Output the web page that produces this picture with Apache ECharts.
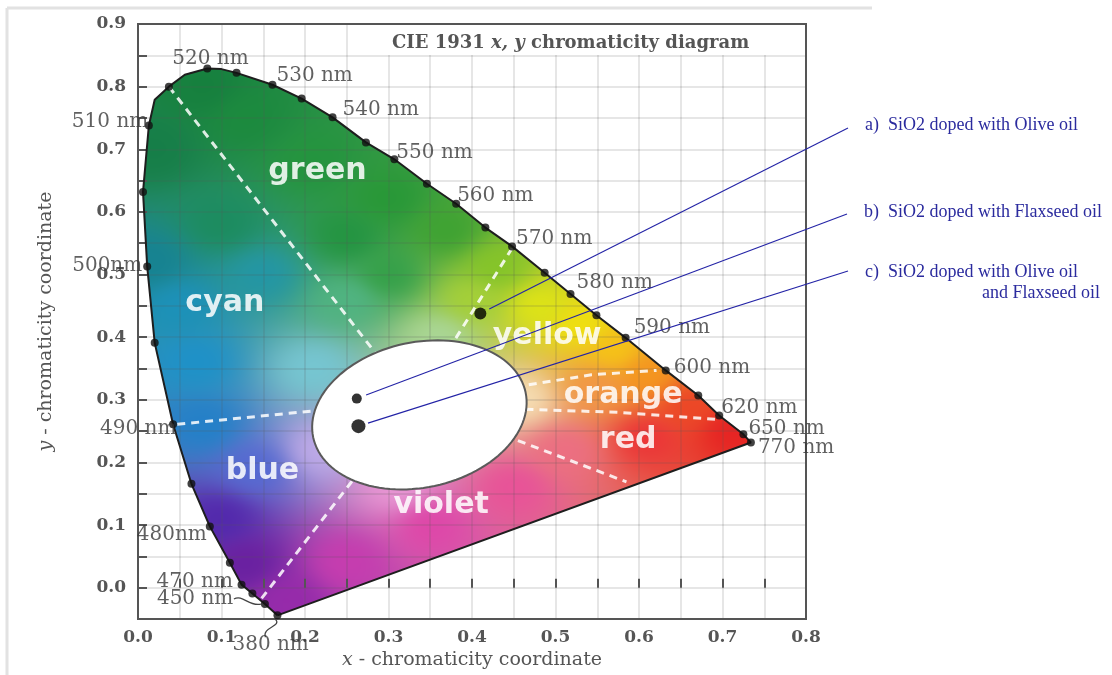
<!DOCTYPE html>
<html>
<head>
<meta charset="utf-8">
<script src="https://cdn.jsdelivr.net/npm/echarts@6/dist/echarts.min.js"></script>
<style>
  html, body { margin: 0; padding: 0; background: #fff; }
  #chart { width: 1112px; height: 675px; }
</style>
</head>
<body>
<div id="chart"></div>
<script>
// Spectral locus outline, 380 nm round to 770 nm (chromaticity x, y)
const locusX = [0.167, 0.152, 0.137, 0.124, 0.110, 0.086, 0.064, 0.042, 0.020, 0.011, 0.006, 0.013, 0.020, 0.037, 0.056, 0.083, 0.100, 0.118, 0.161, 0.196, 0.233, 0.273, 0.307, 0.346, 0.381, 0.416, 0.448, 0.487, 0.518, 0.549, 0.584, 0.632, 0.671, 0.696, 0.725, 0.734];
const locusY = [-0.044, -0.026, -0.009, 0.005, 0.040, 0.098, 0.166, 0.261, 0.391, 0.513, 0.632, 0.738, 0.779, 0.800, 0.819, 0.829, 0.828, 0.822, 0.803, 0.781, 0.751, 0.711, 0.684, 0.645, 0.613, 0.575, 0.545, 0.503, 0.469, 0.435, 0.399, 0.347, 0.307, 0.275, 0.245, 0.232];
// text = labelled wavelength dot, '' = plain dot, null = outline point only
const locusTag = ['380 nm', '450 nm', '', '470 nm', '', '480nm', '', '490 nm', '', '500nm', '', '510 nm', null, '', null, '520 nm', null, '', '530 nm', '', '540 nm', '', '550 nm', '', '560 nm', '', '570 nm', '', '580 nm', '', '590 nm', '600 nm', '', '620 nm', '650 nm', '770 nm'];

// Measured samples
const sampleNames = ['a)  SiO2 doped with Olive oil', 'b)  SiO2 doped with Flaxseed oil', 'c)  SiO2 doped with Olive oil'];
const sampleX = [0.410, 0.262, 0.264];
const sampleY = [0.438, 0.302, 0.258];

// Colour-name regions
const regionNames = ['green', 'cyan', 'blue', 'violet', 'yellow', 'orange', 'red'];
const regionX = [0.215, 0.104, 0.149, 0.363, 0.490, 0.581, 0.587];
const regionY = [0.665, 0.454, 0.186, 0.132, 0.402, 0.307, 0.235];

// Dashed region boundaries
const dividerX = [[0.037, 0.290], [0.448, 0.379], [0.047, 0.215], [0.148, 0.262], [0.455, 0.585], [0.468, 0.543, 0.621], [0.464, 0.576, 0.691]];
const dividerY = [[0.800, 0.365], [0.542, 0.395], [0.261, 0.283], [-0.017, 0.180], [0.235, 0.169], [0.324, 0.340, 0.347], [0.285, 0.280, 0.269]];

// White-light ellipse: centre, semi-axes (data units)
const ellipseCenter = [0.337, 0.276];
const ellipseRadii = [0.130, 0.116];

// Axis ticks
const xTicks = { min: 0, max: 0.8, step: 0.05 };
const yTicks = { min: -0.05, max: 0.9, step: 0.05 };

// ---- styling / layout ----
const SERIF = '"DejaVu Serif", serif';
const TEXT_SERIF = '"Liberation Serif", "Times New Roman", serif';
const wlLabelOffset = {
  '380 nm': [-45, 29], '450 nm': [-108, -5], '470 nm': [-85, -3], '480nm': [-73, 8],
  '490 nm': [-73, 5], '500nm': [-75, -1], '510 nm': [-77, -4], '520 nm': [-35, -10],
  '530 nm': [4, -9], '540 nm': [10, -8], '550 nm': [2, -7], '560 nm': [1, -8],
  '570 nm': [4, -8], '580 nm': [6, -11], '590 nm': [8, -10], '600 nm': [8, -3],
  '620 nm': [2, -8], '650 nm': [5, -6], '770 nm': [7, 5]
};
const sampleDotSize = [12, 10, 14];
const calloutEnd = [[848, 128], [847, 214], [848, 271]];
const ellipseTiltDeg = -12;

// colour field painted inside the locus: [x, y, r, g, b]
const fieldAnchors = [
  [0.08, 0.80, 22, 128, 62], [0.02, 0.70, 22, 126, 72], [0.13, 0.75, 28, 138, 62],
  [0.21, 0.68, 36, 148, 62], [0.30, 0.62, 40, 152, 55], [0.37, 0.57, 62, 162, 50],
  [0.25, 0.56, 35, 148, 65], [0.30, 0.50, 52, 160, 72],
  [0.43, 0.51, 132, 196, 40], [0.40, 0.46, 165, 208, 55], [0.48, 0.45, 222, 228, 22],
  [0.53, 0.42, 240, 225, 15], [0.57, 0.38, 246, 195, 22], [0.61, 0.34, 245, 150, 30],
  [0.55, 0.32, 242, 150, 70], [0.66, 0.29, 236, 70, 38], [0.71, 0.25, 230, 35, 35],
  [0.61, 0.24, 235, 52, 55], [0.51, 0.22, 236, 110, 130], [0.45, 0.16, 232, 82, 152],
  [0.35, 0.10, 222, 70, 168], [0.25, 0.04, 198, 60, 175], [0.18, -0.02, 150, 42, 170],
  [0.13, 0.04, 105, 32, 160], [0.10, 0.11, 82, 40, 172], [0.14, 0.19, 85, 105, 210],
  [0.08, 0.26, 35, 128, 200], [0.07, 0.36, 30, 145, 200], [0.05, 0.45, 28, 145, 185],
  [0.015, 0.52, 22, 130, 145], [0.15, 0.50, 35, 150, 165], [0.10, 0.58, 28, 140, 95],
  [0.21, 0.35, 118, 198, 210], [0.25, 0.46, 80, 180, 130],
  [0.22, 0.22, 190, 170, 232], [0.31, 0.16, 232, 150, 212], [0.34, 0.29, 245, 245, 245],
  [0.36, 0.40, 170, 215, 150], [0.46, 0.30, 246, 222, 180]
];

const chart = echarts.init(document.getElementById('chart'), null, { renderer: 'canvas' });

// Paint the horseshoe fill into an offscreen canvas, masked by the locus outline
let fillCache = null;
function renderFill(params, api) {
  const pts = locusX.map((x, i) => api.coord([x, locusY[i]]));
  const xs = pts.map(p => p[0]), ys = pts.map(p => p[1]);
  const x0 = Math.floor(Math.min(...xs)) - 1, y0 = Math.floor(Math.min(...ys)) - 1;
  const x1 = Math.ceil(Math.max(...xs)) + 1, y1 = Math.ceil(Math.max(...ys)) + 1;
  const w = x1 - x0, h = y1 - y0;
  const key = [x0, y0, w, h].join(',');
  if (!fillCache || fillCache.key !== key) {
    const o = api.coord([0, 0]), u = api.coord([1, 1]);
    const sx = u[0] - o[0], sy = u[1] - o[1];
    const cv = document.createElement('canvas');
    cv.width = w; cv.height = h;
    const ctx = cv.getContext('2d');
    const img = ctx.createImageData(w, h);
    const d = img.data;
    for (let j = 0; j < h; j++) {
      const vy = (y0 + j + 0.5 - o[1]) / sy;
      for (let i = 0; i < w; i++) {
        const vx = (x0 + i + 0.5 - o[0]) / sx;
        let r = 0, g = 0, b = 0, ws = 0;
        for (let k = 0; k < fieldAnchors.length; k++) {
          const a = fieldAnchors[k];
          const ddx = vx - a[0], ddy = vy - a[1];
          const wt = 1 / Math.pow(ddx * ddx + ddy * ddy + 4e-4, 1.5);
          r += wt * a[2]; g += wt * a[3]; b += wt * a[4]; ws += wt;
        }
        const p = (j * w + i) * 4;
        d[p] = r / ws; d[p + 1] = g / ws; d[p + 2] = b / ws; d[p + 3] = 255;
      }
    }
    ctx.putImageData(img, 0, 0);
    ctx.globalCompositeOperation = 'destination-in';
    ctx.beginPath();
    pts.forEach((p, k) => k ? ctx.lineTo(p[0] - x0, p[1] - y0) : ctx.moveTo(p[0] - x0, p[1] - y0));
    ctx.closePath();
    ctx.fill();
    fillCache = { key, cv };
  }
  return { type: 'image', style: { image: fillCache.cv, x: x0, y: y0, width: w, height: h } };
}

function renderEllipse(params, api) {
  const c = api.coord([api.value(0), api.value(1)]);
  const s = api.size(ellipseRadii);
  const th = ellipseTiltDeg * Math.PI / 180;
  const pts = [];
  for (let k = 0; k < 120; k++) {
    const t = k / 120 * Math.PI * 2;
    const ex = s[0] * Math.cos(t), ey = s[1] * Math.sin(t);
    pts.push([c[0] + ex * Math.cos(th) - ey * Math.sin(th), c[1] + ex * Math.sin(th) + ey * Math.cos(th)]);
  }
  return { type: 'polygon', shape: { points: pts }, style: { fill: '#ffffff', stroke: '#5a5a5a', lineWidth: 2 } };
}

function renderCallout(params, api) {
  const p = api.coord([api.value(0), api.value(1)]);
  const e = calloutEnd[params.dataIndex];
  const dx = e[0] - p[0], dy = e[1] - p[1], len = Math.hypot(dx, dy);
  const gap = 10;
  return {
    type: 'line',
    shape: { x1: p[0] + dx / len * gap, y1: p[1] + dy / len * gap, x2: e[0], y2: e[1] },
    style: { stroke: '#2323a6', lineWidth: 1.1 }
  };
}

function renderRegionLabel(params, api) {
  const p = api.coord([api.value(0), api.value(1)]);
  return {
    type: 'text', x: p[0], y: p[1],
    style: {
      text: regionNames[params.dataIndex], align: 'center', verticalAlign: 'middle',
      font: 'bold 30px "DejaVu Sans", sans-serif', fill: 'rgba(255,255,255,0.86)'
    }
  };
}

// little curved leaders tying two labels to their dots
const leaderShape = {
  '450 nm': [[-31, -5], [-22, -10], [-16, 3], [-4, 0]],
  '380 nm': [[-2, 4], [5, 11], [-16, 12], [-12, 22]]
};
function renderLeader(params, api) {
  const p = api.coord([api.value(0), api.value(1)]);
  const s = leaderShape[locusTag[api.value(2)]];
  return {
    type: 'bezierCurve',
    shape: {
      x1: p[0] + s[0][0], y1: p[1] + s[0][1], cpx1: p[0] + s[1][0], cpy1: p[1] + s[1][1],
      cpx2: p[0] + s[2][0], cpy2: p[1] + s[2][1], x2: p[0] + s[3][0], y2: p[1] + s[3][1]
    },
    style: { stroke: '#444', lineWidth: 1.2, fill: null }
  };
}

const outlineData = locusX.map((x, i) => [x, locusY[i]]);
outlineData.push([locusX[0], locusY[0]]);

const dotData = [];
const leaderData = [];
locusTag.forEach((t, i) => {
  if (t === null) return;
  const item = { value: [locusX[i], locusY[i]] };
  if (t) {
    item.label = { show: true, formatter: t, offset: wlLabelOffset[t] };
  }
  dotData.push(item);
  if (leaderShape[t]) leaderData.push([locusX[i], locusY[i], i]);
});

const dividerSeries = dividerX.map((xs, k) => ({
  type: 'line', z: 3, silent: true, symbol: 'none', animation: false,
  data: xs.map((x, i) => [x, dividerY[k][i]]),
  lineStyle: { color: 'rgba(255,255,255,0.85)', width: 3, type: [8, 6] }
}));

const tickLabel = v => (Math.round(v * 20) % 2 === 0 && v > -0.001) ? v.toFixed(1) : '';

const option = {
  animation: false,
  backgroundColor: '#ffffff',
  grid: { left: 138, right: 306, top: 24, bottom: 52, show: true, borderColor: '#555', borderWidth: 2, backgroundColor: 'transparent' },
  xAxis: {
    type: 'value', min: xTicks.min, max: xTicks.max, interval: xTicks.step, z: 2,
    axisLine: { show: false },
    axisTick: { show: true, inside: true, length: 9, lineStyle: { color: '#555', width: 2 } },
    splitLine: { show: true, lineStyle: { color: 'rgba(90,90,90,0.2)', width: 1.5 } },
    axisLabel: { formatter: tickLabel, margin: 10, fontFamily: SERIF, fontWeight: 'bold', fontSize: 17, color: '#555' },
    name: '{i|x} - chromaticity coordinate', nameLocation: 'middle', nameGap: 30,
    nameTextStyle: {
      fontFamily: SERIF, fontSize: 19, color: '#555',
      rich: { i: { fontFamily: SERIF, fontSize: 19, fontStyle: 'italic', color: '#555' } }
    }
  },
  yAxis: {
    type: 'value', min: yTicks.min, max: yTicks.max, interval: yTicks.step, z: 2,
    axisLine: { show: false },
    axisTick: { show: true, inside: true, length: 9, lineStyle: { color: '#555', width: 2 } },
    splitLine: { show: true, lineStyle: { color: 'rgba(90,90,90,0.2)', width: 1.5 } },
    axisLabel: { formatter: tickLabel, margin: 12, fontFamily: SERIF, fontWeight: 'bold', fontSize: 17, color: '#555' },
    name: '{i|y} - chromaticity coordinate', nameLocation: 'middle', nameGap: 82,
    nameTextStyle: {
      fontFamily: SERIF, fontSize: 19, color: '#555',
      rich: { i: { fontFamily: SERIF, fontSize: 19, fontStyle: 'italic', color: '#555' } }
    }
  },
  graphic: [
    { type: 'line', z: 1, shape: { x1: 7, y1: 8, x2: 872, y2: 8 }, style: { stroke: '#e2e2e2', lineWidth: 3 } },
    { type: 'line', z: 1, shape: { x1: 7, y1: 8, x2: 7, y2: 675 }, style: { stroke: '#e2e2e2', lineWidth: 3 } },
    { type: 'rect', z: 20, shape: { x: 385, y: 25, width: 420, height: 30 }, style: { fill: '#ffffff' } },
    {
      type: 'text', z: 21, x: 392, y: 43,
      style: {
        text: '{b|CIE 1931 }{i|x, y}{b| chromaticity diagram}', verticalAlign: 'middle',
        rich: {
          b: { fontFamily: SERIF, fontWeight: 'bold', fontSize: 18, fill: '#555' },
          i: { fontFamily: SERIF, fontWeight: 'bold', fontStyle: 'italic', fontSize: 18, fill: '#555' }
        }
      }
    },
    { type: 'text', z: 21, x: 865, y: 125, style: { text: sampleNames[0], font: '18px ' + TEXT_SERIF, fill: '#2b2b9e', verticalAlign: 'middle' } },
    { type: 'text', z: 21, x: 864, y: 212, style: { text: sampleNames[1], font: '18px ' + TEXT_SERIF, fill: '#2b2b9e', verticalAlign: 'middle' } },
    { type: 'text', z: 21, x: 865, y: 272, style: { text: sampleNames[2], font: '18px ' + TEXT_SERIF, fill: '#2b2b9e', verticalAlign: 'middle' } },
    { type: 'text', z: 21, x: 982, y: 293, style: { text: 'and Flaxseed oil', font: '18px ' + TEXT_SERIF, fill: '#2b2b9e', verticalAlign: 'middle' } }
  ],
  series: [
    { type: 'custom', z: 1, silent: true, renderItem: renderFill, data: [[0, 0]] },
    ...dividerSeries,
    { type: 'custom', z: 3, silent: true, renderItem: renderRegionLabel, data: regionX.map((x, i) => [x, regionY[i]]) },
    {
      type: 'line', z: 4, silent: true, symbol: 'none', data: outlineData,
      lineStyle: { color: '#1e1e1e', width: 2 }
    },
    { type: 'custom', z: 5, silent: true, renderItem: renderEllipse, data: [ellipseCenter] },
    { type: 'custom', z: 5, silent: true, renderItem: renderLeader, data: leaderData },
    {
      type: 'scatter', z: 6, silent: true, symbol: 'circle', symbolSize: 8, data: dotData,
      itemStyle: { color: '#111' },
      label: {
        show: false, position: 'inside', align: 'left', verticalAlign: 'middle',
        fontFamily: SERIF, fontSize: 20, color: '#383838'
      }
    },
    { type: 'custom', z: 7, silent: true, renderItem: renderCallout, data: sampleX.map((x, i) => [x, sampleY[i]]) },
    {
      type: 'scatter', z: 8, silent: true, symbol: 'circle',
      data: sampleX.map((x, i) => ({ value: [x, sampleY[i]], symbolSize: sampleDotSize[i] })),
      itemStyle: { color: '#000' }
    }
  ]
};

chart.setOption(option);
</script>
</body>
</html>
